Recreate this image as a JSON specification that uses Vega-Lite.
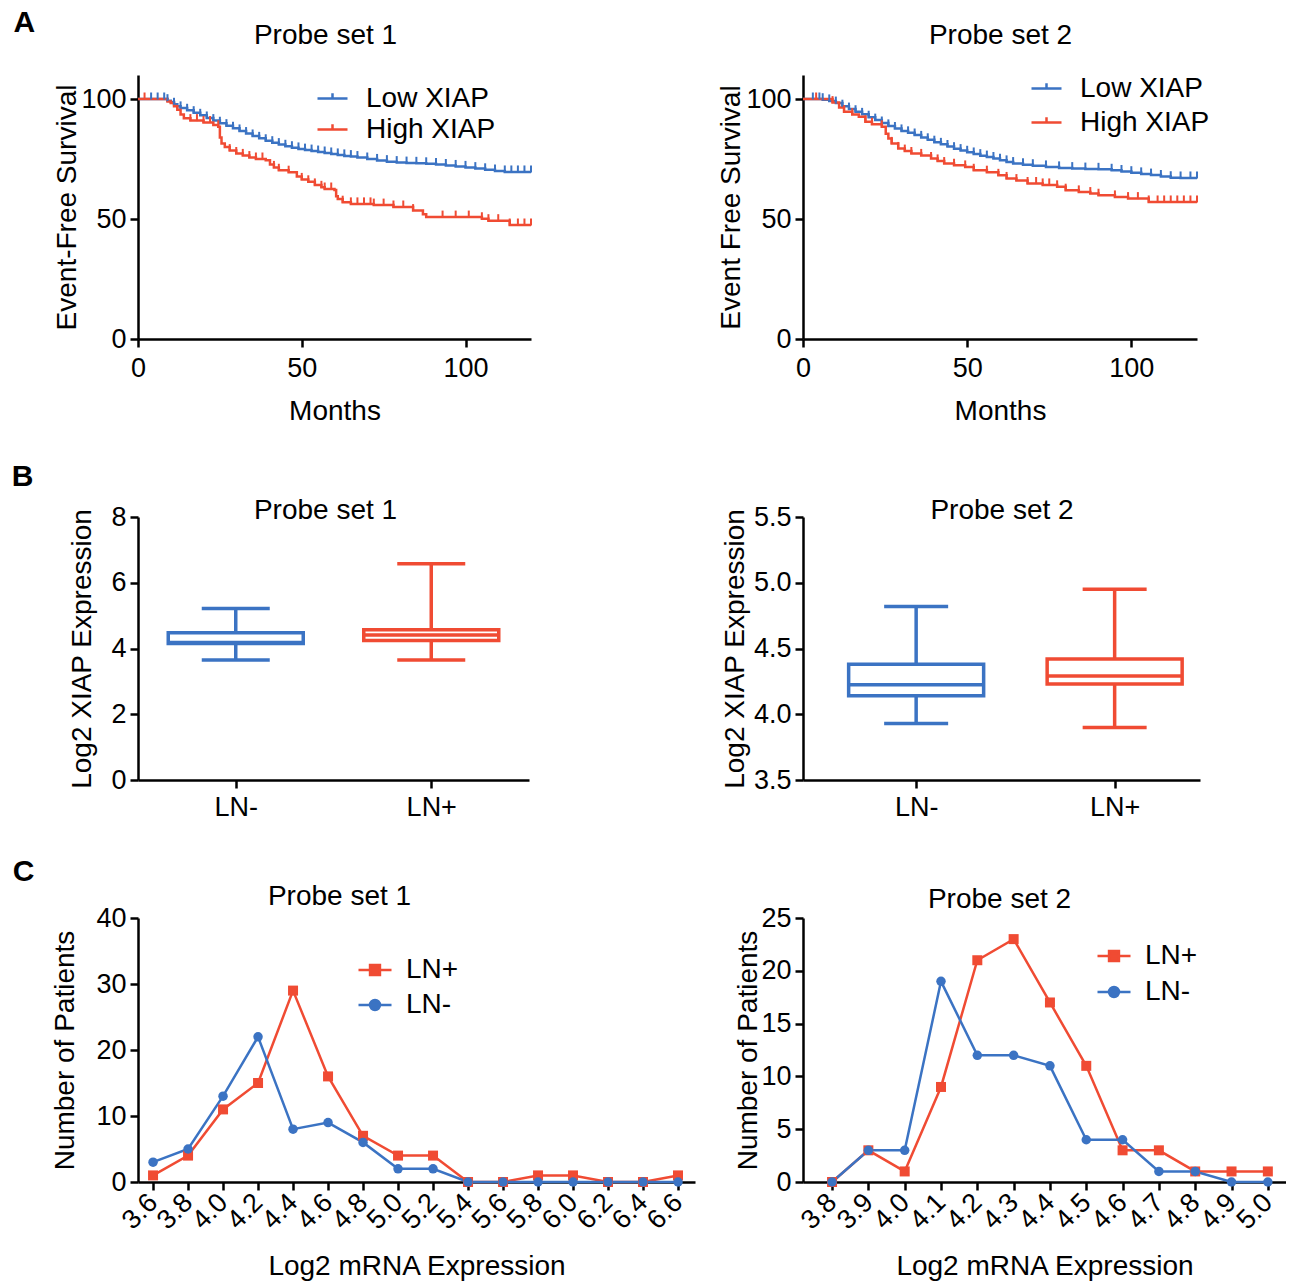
{
"$schema": "https://vega.github.io/schema/vega-lite/v6.json",
"padding": {"left": 11, "top": 8, "right": 0, "bottom": 0},
"background": "white",
"columns": 2,
"align": "each",
"spacing": {"row": 37, "column": 22},
"resolve": {"scale": {"color": "independent", "stroke": "independent", "x": "independent", "y": "independent"}, "legend": {"color": "independent"}},
"config": {
 "font": "Liberation Sans",
 "view": {"stroke": null},
 "axis": {"grid": false, "domainColor": "#000", "domainWidth": 2.5, "tickColor": "#000", "tickWidth": 2.5, "tickSize": 8, "labelFontSize": 27, "labelColor": "#000", "labelPadding": 4, "labelFlush": false, "labelOverlap": false, "titleFontSize": 28, "titleFontWeight": "normal", "titleColor": "#000"},
 "legend": {"orient": "none", "labelFontSize": 28, "labelColor": "#000", "padding": 0, "symbolStrokeWidth": 2.5, "labelLimit": 300},
 "title": {"fontSize": 30, "fontWeight": "bold", "color": "#000"}
},
"datasets": {
 "a1": [
  {"grp":"Low XIAP","month":0,"surv":100,"cens":0},{"grp":"Low XIAP","month":4,"surv":100,"cens":1},{"grp":"Low XIAP","month":6,"surv":100,"cens":1},{"grp":"Low XIAP","month":8,"surv":100,"cens":1},{"grp":"Low XIAP","month":9,"surv":99.3,"cens":1},{"grp":"Low XIAP","month":10,"surv":98.7,"cens":0},{"grp":"Low XIAP","month":11,"surv":97.8,"cens":1},{"grp":"Low XIAP","month":12,"surv":97,"cens":0},{"grp":"Low XIAP","month":13,"surv":96.3,"cens":1},{"grp":"Low XIAP","month":15,"surv":95.3,"cens":1},{"grp":"Low XIAP","month":17,"surv":94.3,"cens":1},{"grp":"Low XIAP","month":19,"surv":93.2,"cens":1},{"grp":"Low XIAP","month":21,"surv":92.1,"cens":1},{"grp":"Low XIAP","month":23,"surv":91,"cens":1},{"grp":"Low XIAP","month":25,"surv":89.9,"cens":1},{"grp":"Low XIAP","month":27,"surv":88.9,"cens":1},{"grp":"Low XIAP","month":29,"surv":87.8,"cens":1},{"grp":"Low XIAP","month":31,"surv":86.7,"cens":1},{"grp":"Low XIAP","month":33,"surv":85.6,"cens":1},{"grp":"Low XIAP","month":35,"surv":84.6,"cens":1},{"grp":"Low XIAP","month":37,"surv":83.6,"cens":1},{"grp":"Low XIAP","month":39,"surv":82.6,"cens":1},{"grp":"Low XIAP","month":41,"surv":81.8,"cens":1},{"grp":"Low XIAP","month":43,"surv":81,"cens":1},{"grp":"Low XIAP","month":45,"surv":80.3,"cens":1},{"grp":"Low XIAP","month":47,"surv":79.7,"cens":1},{"grp":"Low XIAP","month":49,"surv":79.2,"cens":1},{"grp":"Low XIAP","month":51,"surv":78.7,"cens":1},{"grp":"Low XIAP","month":53,"surv":78.3,"cens":1},{"grp":"Low XIAP","month":55,"surv":77.9,"cens":1},{"grp":"Low XIAP","month":57,"surv":77.5,"cens":1},{"grp":"Low XIAP","month":59,"surv":77.1,"cens":1},{"grp":"Low XIAP","month":61,"surv":76.7,"cens":1},{"grp":"Low XIAP","month":63,"surv":76.3,"cens":1},{"grp":"Low XIAP","month":65,"surv":76,"cens":1},{"grp":"Low XIAP","month":67,"surv":75.6,"cens":1},{"grp":"Low XIAP","month":70,"surv":75,"cens":1},{"grp":"Low XIAP","month":73,"surv":74.4,"cens":1},{"grp":"Low XIAP","month":76,"surv":73.9,"cens":1},{"grp":"Low XIAP","month":79,"surv":73.5,"cens":1},{"grp":"Low XIAP","month":82,"surv":73.3,"cens":1},{"grp":"Low XIAP","month":85,"surv":73.2,"cens":1},{"grp":"Low XIAP","month":88,"surv":73,"cens":1},{"grp":"Low XIAP","month":91,"surv":72.7,"cens":1},{"grp":"Low XIAP","month":94,"surv":72.3,"cens":1},{"grp":"Low XIAP","month":97,"surv":71.9,"cens":1},{"grp":"Low XIAP","month":100,"surv":71.5,"cens":1},{"grp":"Low XIAP","month":103,"surv":71,"cens":1},{"grp":"Low XIAP","month":106,"surv":70.5,"cens":1},{"grp":"Low XIAP","month":109,"surv":70,"cens":1},{"grp":"Low XIAP","month":112,"surv":69.6,"cens":1},{"grp":"Low XIAP","month":114,"surv":69.6,"cens":1},{"grp":"Low XIAP","month":116,"surv":69.6,"cens":1},{"grp":"Low XIAP","month":118,"surv":69.6,"cens":1},{"grp":"Low XIAP","month":120,"surv":69.6,"cens":1},
  {"grp":"High XIAP","month":0,"surv":100,"cens":0},{"grp":"High XIAP","month":2,"surv":100,"cens":1},{"grp":"High XIAP","month":8,"surv":100,"cens":0},{"grp":"High XIAP","month":9,"surv":99,"cens":0},{"grp":"High XIAP","month":10,"surv":98.3,"cens":0},{"grp":"High XIAP","month":11,"surv":97,"cens":0},{"grp":"High XIAP","month":12,"surv":95.5,"cens":0},{"grp":"High XIAP","month":13,"surv":93.5,"cens":0},{"grp":"High XIAP","month":14,"surv":92,"cens":0},{"grp":"High XIAP","month":16,"surv":91,"cens":1},{"grp":"High XIAP","month":18,"surv":91,"cens":1},{"grp":"High XIAP","month":20,"surv":90.2,"cens":1},{"grp":"High XIAP","month":22,"surv":90.2,"cens":1},{"grp":"High XIAP","month":23,"surv":89.2,"cens":0},{"grp":"High XIAP","month":24.5,"surv":88.4,"cens":1},{"grp":"High XIAP","month":25,"surv":84,"cens":0},{"grp":"High XIAP","month":25.5,"surv":81.5,"cens":0},{"grp":"High XIAP","month":26.5,"surv":80,"cens":0},{"grp":"High XIAP","month":28,"surv":78.5,"cens":1},{"grp":"High XIAP","month":30,"surv":77.3,"cens":1},{"grp":"High XIAP","month":32,"surv":76.5,"cens":1},{"grp":"High XIAP","month":34,"surv":75.6,"cens":1},{"grp":"High XIAP","month":36,"surv":75,"cens":1},{"grp":"High XIAP","month":38,"surv":75,"cens":1},{"grp":"High XIAP","month":39,"surv":74.5,"cens":0},{"grp":"High XIAP","month":40.3,"surv":72.7,"cens":0},{"grp":"High XIAP","month":41.5,"surv":71.5,"cens":1},{"grp":"High XIAP","month":43,"surv":70.3,"cens":1},{"grp":"High XIAP","month":46,"surv":69.5,"cens":1},{"grp":"High XIAP","month":48.5,"surv":67.7,"cens":0},{"grp":"High XIAP","month":50,"surv":66.5,"cens":1},{"grp":"High XIAP","month":52,"surv":65.5,"cens":1},{"grp":"High XIAP","month":54,"surv":64.2,"cens":1},{"grp":"High XIAP","month":56,"surv":63.2,"cens":1},{"grp":"High XIAP","month":57,"surv":62.5,"cens":1},{"grp":"High XIAP","month":59,"surv":62.5,"cens":1},{"grp":"High XIAP","month":60,"surv":62.1,"cens":0},{"grp":"High XIAP","month":60.5,"surv":59.5,"cens":0},{"grp":"High XIAP","month":61,"surv":58.3,"cens":0},{"grp":"High XIAP","month":62.5,"surv":57,"cens":1},{"grp":"High XIAP","month":65,"surv":56.3,"cens":1},{"grp":"High XIAP","month":67,"surv":56.3,"cens":1},{"grp":"High XIAP","month":69,"surv":56.3,"cens":1},{"grp":"High XIAP","month":71,"surv":56.3,"cens":1},{"grp":"High XIAP","month":72,"surv":55.8,"cens":1},{"grp":"High XIAP","month":75,"surv":55.8,"cens":1},{"grp":"High XIAP","month":78,"surv":55,"cens":1},{"grp":"High XIAP","month":81,"surv":55,"cens":1},{"grp":"High XIAP","month":84,"surv":53.5,"cens":1},{"grp":"High XIAP","month":87,"surv":52,"cens":0},{"grp":"High XIAP","month":88,"surv":50.8,"cens":0},{"grp":"High XIAP","month":93,"surv":50.8,"cens":1},{"grp":"High XIAP","month":97,"surv":50.8,"cens":1},{"grp":"High XIAP","month":101,"surv":50.8,"cens":1},{"grp":"High XIAP","month":104.5,"surv":50.8,"cens":0},{"grp":"High XIAP","month":105,"surv":50.1,"cens":1},{"grp":"High XIAP","month":107,"surv":49.3,"cens":1},{"grp":"High XIAP","month":110,"surv":49.3,"cens":1},{"grp":"High XIAP","month":113.5,"surv":47.5,"cens":1},{"grp":"High XIAP","month":116,"surv":47.5,"cens":1},{"grp":"High XIAP","month":118,"surv":47.5,"cens":1},{"grp":"High XIAP","month":120,"surv":47.5,"cens":1}
 ],
 "a2": [
  {"grp":"Low XIAP","month":0,"surv":100,"cens":0},{"grp":"Low XIAP","month":3,"surv":100,"cens":1},{"grp":"Low XIAP","month":5,"surv":100,"cens":1},{"grp":"Low XIAP","month":6,"surv":99.7,"cens":1},{"grp":"Low XIAP","month":8,"surv":99.2,"cens":1},{"grp":"Low XIAP","month":10,"surv":98.3,"cens":1},{"grp":"Low XIAP","month":12,"surv":97,"cens":1},{"grp":"Low XIAP","month":14,"surv":95.8,"cens":1},{"grp":"Low XIAP","month":16,"surv":94.7,"cens":1},{"grp":"Low XIAP","month":18,"surv":93.6,"cens":1},{"grp":"Low XIAP","month":20,"surv":92.4,"cens":1},{"grp":"Low XIAP","month":22,"surv":91.2,"cens":1},{"grp":"Low XIAP","month":24,"surv":90,"cens":1},{"grp":"Low XIAP","month":26,"surv":88.8,"cens":1},{"grp":"Low XIAP","month":28,"surv":87.7,"cens":1},{"grp":"Low XIAP","month":30,"surv":86.7,"cens":1},{"grp":"Low XIAP","month":32,"surv":85.9,"cens":1},{"grp":"Low XIAP","month":34,"surv":85,"cens":1},{"grp":"Low XIAP","month":36,"surv":84,"cens":1},{"grp":"Low XIAP","month":38,"surv":83,"cens":1},{"grp":"Low XIAP","month":40,"surv":82,"cens":1},{"grp":"Low XIAP","month":42,"surv":81.1,"cens":1},{"grp":"Low XIAP","month":44,"surv":80.2,"cens":1},{"grp":"Low XIAP","month":46,"surv":79.3,"cens":1},{"grp":"Low XIAP","month":48,"surv":78.5,"cens":1},{"grp":"Low XIAP","month":50,"surv":77.8,"cens":1},{"grp":"Low XIAP","month":52,"surv":77.1,"cens":1},{"grp":"Low XIAP","month":54,"surv":76.4,"cens":1},{"grp":"Low XIAP","month":56,"surv":75.8,"cens":1},{"grp":"Low XIAP","month":58,"surv":75.2,"cens":1},{"grp":"Low XIAP","month":60,"surv":74.5,"cens":1},{"grp":"Low XIAP","month":62,"surv":73.8,"cens":1},{"grp":"Low XIAP","month":64,"surv":73.1,"cens":1},{"grp":"Low XIAP","month":67,"surv":72.6,"cens":1},{"grp":"Low XIAP","month":70,"surv":72.2,"cens":1},{"grp":"Low XIAP","month":74,"surv":71.7,"cens":1},{"grp":"Low XIAP","month":78,"surv":71.3,"cens":1},{"grp":"Low XIAP","month":82,"surv":71,"cens":1},{"grp":"Low XIAP","month":86,"surv":70.8,"cens":1},{"grp":"Low XIAP","month":90,"surv":70.7,"cens":1},{"grp":"Low XIAP","month":94,"surv":70.3,"cens":1},{"grp":"Low XIAP","month":97,"surv":69.8,"cens":1},{"grp":"Low XIAP","month":100,"surv":69.3,"cens":1},{"grp":"Low XIAP","month":103,"surv":68.8,"cens":1},{"grp":"Low XIAP","month":106,"surv":68.3,"cens":1},{"grp":"Low XIAP","month":109,"surv":67.7,"cens":1},{"grp":"Low XIAP","month":112,"surv":67.2,"cens":1},{"grp":"Low XIAP","month":115,"surv":67.1,"cens":1},{"grp":"Low XIAP","month":118,"surv":67.1,"cens":1},{"grp":"Low XIAP","month":120,"surv":67.1,"cens":1},
  {"grp":"High XIAP","month":0,"surv":100,"cens":0},{"grp":"High XIAP","month":4,"surv":100,"cens":1},{"grp":"High XIAP","month":7,"surv":100,"cens":0},{"grp":"High XIAP","month":9,"surv":98.5,"cens":1},{"grp":"High XIAP","month":11,"surv":96.5,"cens":0},{"grp":"High XIAP","month":12.5,"surv":94.7,"cens":1},{"grp":"High XIAP","month":15,"surv":93.5,"cens":1},{"grp":"High XIAP","month":17,"surv":92.6,"cens":0},{"grp":"High XIAP","month":19,"surv":90.5,"cens":1},{"grp":"High XIAP","month":21,"surv":89.5,"cens":1},{"grp":"High XIAP","month":24,"surv":88.4,"cens":1},{"grp":"High XIAP","month":25.2,"surv":85.5,"cens":0},{"grp":"High XIAP","month":26,"surv":83.5,"cens":0},{"grp":"High XIAP","month":27,"surv":81.5,"cens":1},{"grp":"High XIAP","month":29,"surv":79.4,"cens":1},{"grp":"High XIAP","month":31,"surv":78.3,"cens":1},{"grp":"High XIAP","month":33,"surv":77.3,"cens":1},{"grp":"High XIAP","month":36,"surv":76.5,"cens":1},{"grp":"High XIAP","month":39,"surv":75.2,"cens":1},{"grp":"High XIAP","month":41,"surv":74.2,"cens":1},{"grp":"High XIAP","month":43,"surv":73.1,"cens":1},{"grp":"High XIAP","month":46,"surv":72.4,"cens":1},{"grp":"High XIAP","month":49.4,"surv":71.7,"cens":1},{"grp":"High XIAP","month":52,"surv":70.3,"cens":1},{"grp":"High XIAP","month":56,"surv":69.5,"cens":1},{"grp":"High XIAP","month":59.5,"surv":68.2,"cens":1},{"grp":"High XIAP","month":62,"surv":66.9,"cens":1},{"grp":"High XIAP","month":65,"surv":66,"cens":1},{"grp":"High XIAP","month":68.4,"surv":64.8,"cens":1},{"grp":"High XIAP","month":71,"surv":64.8,"cens":1},{"grp":"High XIAP","month":73,"surv":64.2,"cens":1},{"grp":"High XIAP","month":75,"surv":64.2,"cens":1},{"grp":"High XIAP","month":77.4,"surv":63.4,"cens":1},{"grp":"High XIAP","month":80,"surv":62,"cens":1},{"grp":"High XIAP","month":84,"surv":61.3,"cens":1},{"grp":"High XIAP","month":87.5,"surv":60.6,"cens":1},{"grp":"High XIAP","month":90,"surv":59.9,"cens":1},{"grp":"High XIAP","month":95,"surv":59.2,"cens":1},{"grp":"High XIAP","month":99,"surv":58.5,"cens":1},{"grp":"High XIAP","month":102,"surv":58.5,"cens":1},{"grp":"High XIAP","month":105.3,"surv":57.1,"cens":1},{"grp":"High XIAP","month":108,"surv":57.1,"cens":1},{"grp":"High XIAP","month":110,"surv":57.1,"cens":1},{"grp":"High XIAP","month":112,"surv":57.1,"cens":1},{"grp":"High XIAP","month":114,"surv":57.1,"cens":1},{"grp":"High XIAP","month":116,"surv":57.1,"cens":1},{"grp":"High XIAP","month":118,"surv":57.1,"cens":1},{"grp":"High XIAP","month":120,"surv":57.1,"cens":1}
 ],
 "b1": [
  {"grp":"LN-","min":3.65,"q1":4.15,"med":4.18,"q3":4.48,"max":5.22},
  {"grp":"LN+","min":3.65,"q1":4.24,"med":4.41,"q3":4.57,"max":6.58}
 ],
 "b2": [
  {"grp":"LN-","min":3.93,"q1":4.14,"med":4.225,"q3":4.38,"max":4.82},
  {"grp":"LN+","min":3.9,"q1":4.23,"med":4.29,"q3":4.42,"max":4.95}
 ],
 "c1": [
  {"grp":"LN+","val":3.6,"n":1},{"grp":"LN+","val":3.8,"n":4},{"grp":"LN+","val":4.0,"n":11},{"grp":"LN+","val":4.2,"n":15},{"grp":"LN+","val":4.4,"n":29},{"grp":"LN+","val":4.6,"n":16},{"grp":"LN+","val":4.8,"n":7},{"grp":"LN+","val":5.0,"n":4},{"grp":"LN+","val":5.2,"n":4},{"grp":"LN+","val":5.4,"n":0},{"grp":"LN+","val":5.6,"n":0},{"grp":"LN+","val":5.8,"n":1},{"grp":"LN+","val":6.0,"n":1},{"grp":"LN+","val":6.2,"n":0},{"grp":"LN+","val":6.4,"n":0},{"grp":"LN+","val":6.6,"n":1},
  {"grp":"LN-","val":3.6,"n":3},{"grp":"LN-","val":3.8,"n":5},{"grp":"LN-","val":4.0,"n":13},{"grp":"LN-","val":4.2,"n":22},{"grp":"LN-","val":4.4,"n":8},{"grp":"LN-","val":4.6,"n":9},{"grp":"LN-","val":4.8,"n":6},{"grp":"LN-","val":5.0,"n":2},{"grp":"LN-","val":5.2,"n":2},{"grp":"LN-","val":5.4,"n":0},{"grp":"LN-","val":5.6,"n":0},{"grp":"LN-","val":5.8,"n":0},{"grp":"LN-","val":6.0,"n":0},{"grp":"LN-","val":6.2,"n":0},{"grp":"LN-","val":6.4,"n":0},{"grp":"LN-","val":6.6,"n":0}
 ],
 "c2": [
  {"grp":"LN+","val":3.8,"n":0},{"grp":"LN+","val":3.9,"n":3},{"grp":"LN+","val":4.0,"n":1},{"grp":"LN+","val":4.1,"n":9},{"grp":"LN+","val":4.2,"n":21},{"grp":"LN+","val":4.3,"n":23},{"grp":"LN+","val":4.4,"n":17},{"grp":"LN+","val":4.5,"n":11},{"grp":"LN+","val":4.6,"n":3},{"grp":"LN+","val":4.7,"n":3},{"grp":"LN+","val":4.8,"n":1},{"grp":"LN+","val":4.9,"n":1},{"grp":"LN+","val":5.0,"n":1},
  {"grp":"LN-","val":3.8,"n":0},{"grp":"LN-","val":3.9,"n":3},{"grp":"LN-","val":4.0,"n":3},{"grp":"LN-","val":4.1,"n":19},{"grp":"LN-","val":4.2,"n":12},{"grp":"LN-","val":4.3,"n":12},{"grp":"LN-","val":4.4,"n":11},{"grp":"LN-","val":4.5,"n":4},{"grp":"LN-","val":4.6,"n":4},{"grp":"LN-","val":4.7,"n":1},{"grp":"LN-","val":4.8,"n":1},{"grp":"LN-","val":4.9,"n":0},{"grp":"LN-","val":5.0,"n":0}
 ]
},
"concat": [
 {
  "data": {"name": "a1"},
  "title": {"text": "A", "orient": "left", "anchor": "end", "frame": "group", "angle": 0, "align": "right", "baseline": "top", "offset": -3, "dy": -67},
  "width": 393, "height": 264,
  "layer": [
   {"mark": {"type": "line", "interpolate": "step-after", "strokeWidth": 2.5},
    "encoding": {
     "x": {"field": "month", "type": "quantitative", "scale": {"domain": [0, 120], "nice": false}, "axis": {"title": "Months", "values": [0, 50, 100], "labelPadding": 8, "titlePadding": 16}},
     "y": {"field": "surv", "type": "quantitative", "scale": {"domain": [0, 110], "nice": false}, "axis": {"title": "Event-Free Survival", "values": [0, 50, 100], "titlePadding": -1}},
     "color": {"field": "grp", "type": "nominal", "scale": {"domain": ["Low XIAP", "High XIAP"], "range": ["#3b73c3", "#f04b33"]},
      "legend": {"title": null, "legendX": 178, "legendY": 7, "symbolType": "M-1,0H1M0,0V-0.35", "symbolSize": 900, "rowPadding": 0, "labelOffset": 17}}
    }},
   {"transform": [{"filter": "datum.cens == 1"}],
    "mark": {"type": "tick", "orient": "vertical", "size": 7, "thickness": 2, "yOffset": -3, "opacity": 1},
    "encoding": {
     "x": {"field": "month", "type": "quantitative", "axis": {"orient": "top", "title": "Probe set 1", "domain": false, "ticks": false, "labels": false, "titlePadding": 26, "titleX": 187}},
     "y": {"field": "surv", "type": "quantitative"},
     "color": {"field": "grp", "type": "nominal"}
    }}
  ],
  "resolve": {"axis": {"x": "independent"}}
 },
 {
  "data": {"name": "a2"},
  "width": 394, "height": 264,
  "layer": [
   {"mark": {"type": "line", "interpolate": "step-after", "strokeWidth": 2.5},
    "encoding": {
     "x": {"field": "month", "type": "quantitative", "scale": {"domain": [0, 120], "nice": false}, "axis": {"title": "Months", "values": [0, 50, 100], "labelPadding": 8, "titlePadding": 16}},
     "y": {"field": "surv", "type": "quantitative", "scale": {"domain": [0, 110], "nice": false}, "axis": {"title": "Event Free Survival", "values": [0, 50, 100], "titlePadding": 0}},
     "color": {"field": "grp", "type": "nominal", "scale": {"domain": ["Low XIAP", "High XIAP"], "range": ["#3b73c3", "#f04b33"]},
      "legend": {"title": null, "legendX": 227, "legendY": -3, "symbolType": "M-1,0H1M0,0V-0.35", "symbolSize": 900, "rowPadding": 3, "labelOffset": 17}}
    }},
   {"transform": [{"filter": "datum.cens == 1"}],
    "mark": {"type": "tick", "orient": "vertical", "size": 7, "thickness": 2, "yOffset": -3, "opacity": 1},
    "encoding": {
     "x": {"field": "month", "type": "quantitative", "axis": {"orient": "top", "title": "Probe set 2", "domain": false, "ticks": false, "labels": false, "titlePadding": 26}},
     "y": {"field": "surv", "type": "quantitative"},
     "color": {"field": "grp", "type": "nominal"}
    }}
  ],
  "resolve": {"axis": {"x": "independent"}}
 },
 {
  "data": {"name": "b1"},
  "title": {"text": "B", "orient": "left", "anchor": "end", "frame": "group", "angle": 0, "align": "right", "baseline": "top", "offset": 14, "dy": -55},
  "width": 391, "height": 263,
  "layer": [
   {"mark": {"type": "rule", "strokeWidth": 3.5},
    "encoding": {
     "x": {"field": "grp", "type": "nominal", "sort": ["LN-", "LN+"], "scale": {"type": "point", "padding": 0.5}, "axis": {"title": null, "labelAngle": 0, "labelPadding": 6}},
     "y": {"field": "min", "type": "quantitative", "scale": {"domain": [0, 8], "nice": false}, "axis": {"title": "Log2 XIAP Expression", "values": [0, 2, 4, 6, 8], "titlePadding": 14}},
     "y2": {"field": "max"},
     "color": {"field": "grp", "type": "nominal", "scale": {"domain": ["LN-", "LN+"], "range": ["#3b73c3", "#f04b33"]}, "legend": null}
    }},
   {"mark": {"type": "bar", "width": 135, "fill": "white", "strokeWidth": 3.5},
    "encoding": {
     "x": {"field": "grp", "type": "nominal", "sort": ["LN-", "LN+"], "axis": null},
     "y": {"field": "q1", "type": "quantitative"},
     "y2": {"field": "q3"},
     "stroke": {"field": "grp", "type": "nominal", "scale": {"domain": ["LN-", "LN+"], "range": ["#3b73c3", "#f04b33"]}, "legend": null}
    }},
   {"mark": {"type": "tick", "size": 135, "thickness": 3.5, "opacity": 1},
    "encoding": {
     "x": {"field": "grp", "type": "nominal", "sort": ["LN-", "LN+"], "axis": null},
     "y": {"field": "med", "type": "quantitative"},
     "color": {"field": "grp", "type": "nominal", "legend": null}
    }},
   {"transform": [{"fold": ["min", "max"], "as": ["stat", "value"]}],
    "mark": {"type": "tick", "size": 68, "thickness": 3.5, "opacity": 1},
    "encoding": {
     "x": {"field": "grp", "type": "nominal", "sort": ["LN-", "LN+"], "axis": {"orient": "top", "title": "Probe set 1", "domain": false, "ticks": false, "labels": false, "titlePadding": -7, "titleX": 187}},
     "y": {"field": "value", "type": "quantitative"},
     "color": {"field": "grp", "type": "nominal", "legend": null}
    }}
  ],
  "resolve": {"axis": {"x": "independent"}}
 },
 {
  "data": {"name": "b2"},
  "width": 397, "height": 263,
  "layer": [
   {"mark": {"type": "rule", "strokeWidth": 3.5},
    "encoding": {
     "x": {"field": "grp", "type": "nominal", "sort": ["LN-", "LN+"], "scale": {"type": "point", "padding": 0.5, "align": 0.57}, "axis": {"title": null, "labelAngle": 0, "labelPadding": 6}},
     "y": {"field": "min", "type": "quantitative", "scale": {"domain": [3.5, 5.5], "nice": false}, "axis": {"title": "Log2 XIAP Expression", "values": [3.5, 4, 4.5, 5, 5.5], "format": ".1f", "titlePadding": 4}},
     "y2": {"field": "max"},
     "color": {"field": "grp", "type": "nominal", "scale": {"domain": ["LN-", "LN+"], "range": ["#3b73c3", "#f04b33"]}, "legend": null}
    }},
   {"mark": {"type": "bar", "width": 135, "fill": "white", "strokeWidth": 3.5},
    "encoding": {
     "x": {"field": "grp", "type": "nominal", "sort": ["LN-", "LN+"], "axis": null},
     "y": {"field": "q1", "type": "quantitative"},
     "y2": {"field": "q3"},
     "stroke": {"field": "grp", "type": "nominal", "scale": {"domain": ["LN-", "LN+"], "range": ["#3b73c3", "#f04b33"]}, "legend": null}
    }},
   {"mark": {"type": "tick", "size": 135, "thickness": 3.5, "opacity": 1},
    "encoding": {
     "x": {"field": "grp", "type": "nominal", "sort": ["LN-", "LN+"], "axis": null},
     "y": {"field": "med", "type": "quantitative"},
     "color": {"field": "grp", "type": "nominal", "legend": null}
    }},
   {"transform": [{"fold": ["min", "max"], "as": ["stat", "value"]}],
    "mark": {"type": "tick", "size": 64, "thickness": 3.5, "opacity": 1},
    "encoding": {
     "x": {"field": "grp", "type": "nominal", "sort": ["LN-", "LN+"], "axis": {"orient": "top", "title": "Probe set 2", "domain": false, "ticks": false, "labels": false, "titlePadding": -7}},
     "y": {"field": "value", "type": "quantitative"},
     "color": {"field": "grp", "type": "nominal", "legend": null}
    }}
  ],
  "resolve": {"axis": {"x": "independent"}}
 },
 {
  "data": {"name": "c1"},
  "title": {"text": "C", "orient": "left", "anchor": "end", "frame": "group", "angle": 0, "align": "right", "baseline": "top", "offset": -4, "dy": -61},
  "width": 557, "height": 264,
  "layer": [
   {"mark": {"type": "line", "strokeWidth": 2.5},
    "encoding": {
     "x": {"field": "val", "type": "quantitative", "scale": {"domain": [3.514, 6.697], "nice": false, "zero": false}, "axis": {"title": "Log2 mRNA Expression", "values": [3.6, 3.8, 4.0, 4.2, 4.4, 4.6, 4.8, 5.0, 5.2, 5.4, 5.6, 5.8, 6.0, 6.2, 6.4, 6.6], "format": ".1f", "labelAngle": -45, "labelAlign": "right", "labelBaseline": "middle", "labelPadding": 8, "titlePadding": 19}},
     "y": {"field": "n", "type": "quantitative", "scale": {"domain": [0, 40], "nice": false}, "axis": {"title": "Number of Patients", "values": [0, 10, 20, 30, 40], "titlePadding": 16}},
     "color": {"field": "grp", "type": "nominal", "scale": {"domain": ["LN+", "LN-"], "range": ["#f04b33", "#3b73c3"]},
      "legend": {"title": null, "legendX": 219, "legendY": 34, "symbolType": "M-1,0H1M-0.3,-0.3H0.3V0.3H-0.3Z", "symbolSize": 1089, "rowPadding": 3, "labelOffset": 13,
       "encoding": {"symbols": {
         "shape": {"value": {"expr": "datum.value === 'LN+' ? 'M-1,0H1M-0.3,-0.3H0.3V0.3H-0.3Z' : 'M-1,0H1M0.3,0A0.3,0.3,0,1,1,-0.3,0A0.3,0.3,0,1,1,0.3,0Z'"}},
         "fill": {"value": {"expr": "datum.value === 'LN+' ? '#f04b33' : '#3b73c3'"}},
         "opacity": {"value": 1}}}}}
    }},
   {"transform": [{"filter": "datum.grp === 'LN+'"}],
    "mark": {"type": "point", "filled": true, "shape": "square", "size": 100, "opacity": 1},
    "encoding": {
     "x": {"field": "val", "type": "quantitative", "axis": {"orient": "top", "title": "Probe set 1", "domain": false, "ticks": false, "labels": false, "titlePadding": 8, "titleX": 201}},
     "y": {"field": "n", "type": "quantitative"},
     "color": {"field": "grp", "type": "nominal"}
    }},
   {"transform": [{"filter": "datum.grp === 'LN-'"}],
    "mark": {"type": "point", "filled": true, "shape": "circle", "size": 90, "opacity": 1},
    "encoding": {
     "x": {"field": "val", "type": "quantitative", "axis": null},
     "y": {"field": "n", "type": "quantitative"},
     "color": {"field": "grp", "type": "nominal"}
    }}
  ],
  "resolve": {"axis": {"x": "independent"}}
 },
 {
  "data": {"name": "c2"},
  "width": 483, "height": 264,
  "layer": [
   {"mark": {"type": "line", "strokeWidth": 2.5},
    "encoding": {
     "x": {"field": "val", "type": "quantitative", "scale": {"domain": [3.72, 5.05], "nice": false, "zero": false}, "axis": {"title": "Log2 mRNA Expression", "values": [3.8, 3.9, 4.0, 4.1, 4.2, 4.3, 4.4, 4.5, 4.6, 4.7, 4.8, 4.9, 5.0], "format": ".1f", "labelAngle": -45, "labelAlign": "right", "labelBaseline": "middle", "labelPadding": 8, "titlePadding": 19}},
     "y": {"field": "n", "type": "quantitative", "scale": {"domain": [0, 25], "nice": false}, "axis": {"title": "Number of Patients", "values": [0, 5, 10, 15, 20, 25], "titlePadding": -2}},
     "color": {"field": "grp", "type": "nominal", "scale": {"domain": ["LN+", "LN-"], "range": ["#f04b33", "#3b73c3"]},
      "legend": {"title": null, "legendX": 293, "legendY": 20, "symbolType": "M-1,0H1M-0.3,-0.3H0.3V0.3H-0.3Z", "symbolSize": 1089, "rowPadding": 4, "labelOffset": 13,
       "encoding": {"symbols": {
         "shape": {"value": {"expr": "datum.value === 'LN+' ? 'M-1,0H1M-0.3,-0.3H0.3V0.3H-0.3Z' : 'M-1,0H1M0.3,0A0.3,0.3,0,1,1,-0.3,0A0.3,0.3,0,1,1,0.3,0Z'"}},
         "fill": {"value": {"expr": "datum.value === 'LN+' ? '#f04b33' : '#3b73c3'"}},
         "opacity": {"value": 1}}}}}
    }},
   {"transform": [{"filter": "datum.grp === 'LN+'"}],
    "mark": {"type": "point", "filled": true, "shape": "square", "size": 100, "opacity": 1},
    "encoding": {
     "x": {"field": "val", "type": "quantitative", "axis": {"orient": "top", "title": "Probe set 2", "domain": false, "ticks": false, "labels": false, "titlePadding": 5, "titleX": 196}},
     "y": {"field": "n", "type": "quantitative"},
     "color": {"field": "grp", "type": "nominal"}
    }},
   {"transform": [{"filter": "datum.grp === 'LN-'"}],
    "mark": {"type": "point", "filled": true, "shape": "circle", "size": 90, "opacity": 1},
    "encoding": {
     "x": {"field": "val", "type": "quantitative", "axis": null},
     "y": {"field": "n", "type": "quantitative"},
     "color": {"field": "grp", "type": "nominal"}
    }}
  ],
  "resolve": {"axis": {"x": "independent"}}
 }
]
}
